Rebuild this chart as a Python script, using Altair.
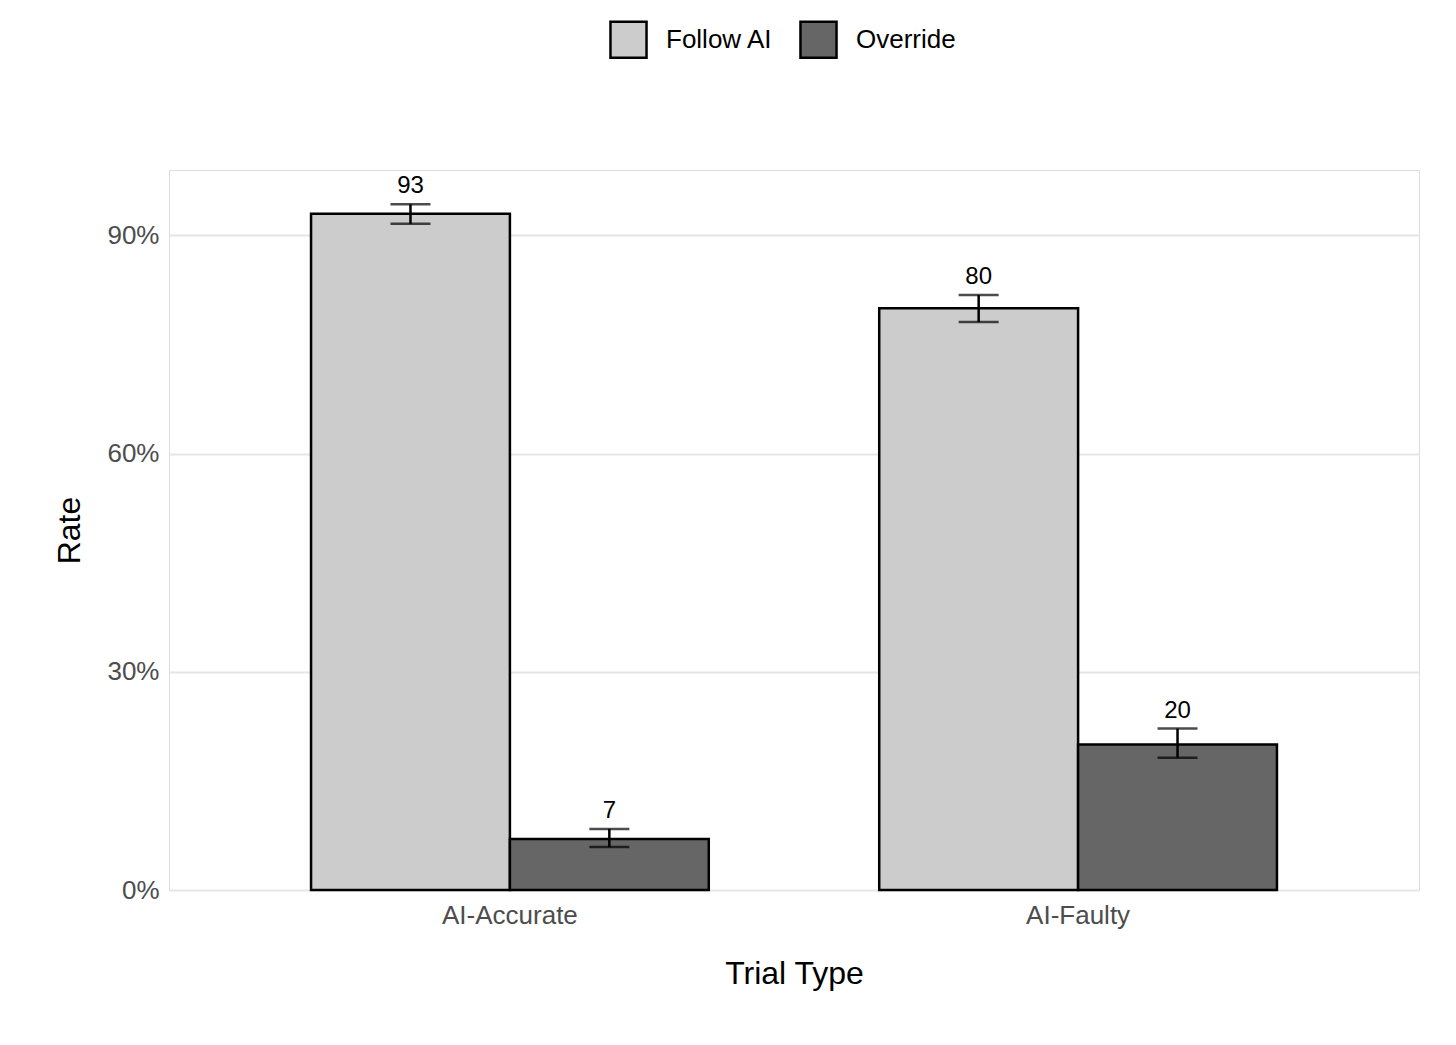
import pandas as pd
import altair as alt

trial_types = ["AI-Accurate", "AI-Accurate", "AI-Faulty", "AI-Faulty"]
decisions = ["Follow AI", "Override", "Follow AI", "Override"]
rates = [0.93, 0.07, 0.80, 0.20]
lows = [0.916, 0.059, 0.781, 0.182]
highs = [0.943, 0.084, 0.818, 0.222]
labels = ["93", "7", "80", "20"]

df = pd.DataFrame({"trial": trial_types, "decision": decisions, "rate": rates,
                   "lo": lows, "hi": highs, "label": labels})

font = "Liberation Sans"
x = alt.X("trial:N", title="Trial Type",
          scale=alt.Scale(paddingInner=0.3, paddingOuter=0.25),
          axis=alt.Axis(labelAngle=0, labelFontSize=26, labelColor="#4d4d4d",
                        titleFontSize=32, titleFontWeight="normal", titleColor="black",
                        labelPadding=12, titlePadding=30, ticks=False, domain=False))
y_scale = alt.Scale(domain=[0, 0.99], nice=False)
xo = alt.XOffset("decision:N", scale=alt.Scale(paddingInner=0, paddingOuter=0))

base = alt.Chart(df)

bars = base.mark_bar(stroke="black", strokeWidth=2.5).encode(
    x=x, xOffset=xo,
    y=alt.Y("rate:Q", title="Rate", scale=y_scale,
            axis=alt.Axis(format=".0%", values=[0, 0.3, 0.6, 0.9], labelFontSize=26,
                          labelColor="#4d4d4d", titleFontSize=32, titleFontWeight="normal",
                          titleColor="black", gridColor="#e5e5e5", gridWidth=2,
                          ticks=False, domain=False, labelPadding=10, titlePadding=20)),
    color=alt.Color("decision:N", title=None,
                    scale=alt.Scale(domain=["Follow AI", "Override"], range=["#cccccc", "#666666"]),
                    legend=alt.Legend(orient="none", legendX=440, legendY=-150, direction="horizontal",
                                      symbolType="square", symbolSize=1300, symbolStrokeColor="black",
                                      symbolStrokeWidth=2.5, labelFontSize=26, labelColor="black",
                                      columnPadding=22, labelOffset=18)),
)

rules = base.mark_rule(color="black", strokeWidth=2.5).encode(
    x=x, xOffset=xo, y=alt.Y("lo:Q", scale=y_scale), y2="hi:Q")
caps_lo = base.mark_tick(color="black", size=40, thickness=2.5).encode(
    x=x, xOffset=xo, y=alt.Y("lo:Q", scale=y_scale))
caps_hi = base.mark_tick(color="black", size=40, thickness=2.5).encode(
    x=x, xOffset=xo, y=alt.Y("hi:Q", scale=y_scale))
text = base.mark_text(fontSize=24, baseline="bottom", dy=-6, color="black", font=font).encode(
    x=x, xOffset=xo, y=alt.Y("hi:Q", scale=y_scale), text="label:N")

chart = alt.layer(bars, rules, caps_lo, caps_hi, text).properties(
    width=1250, height=720, padding={"left": 45, "top": 12, "right": 20, "bottom": 10}
).configure_view(strokeWidth=0, stroke="transparent").configure(font=font)

chart.save("out.html", embed_options={"renderer": "svg", "actions": False})
